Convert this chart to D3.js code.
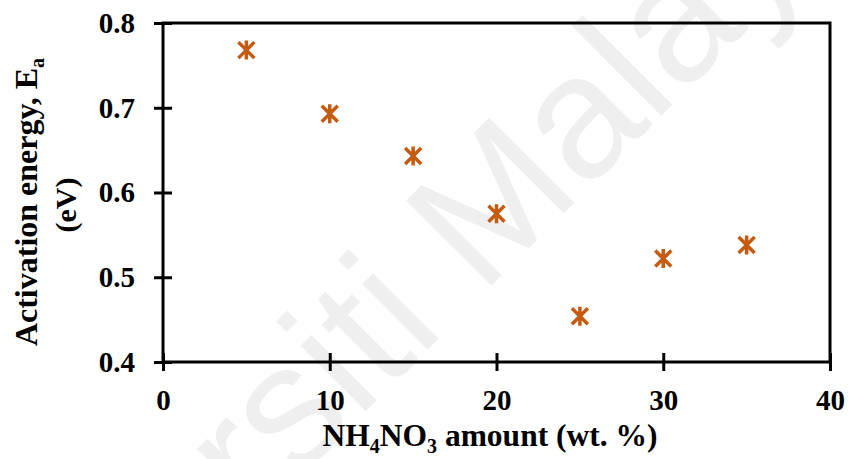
<!DOCTYPE html>
<html>
  <head>
    <meta charset="utf-8">
    <script src="https://d3js.org/d3.v7.min.js"></script>
    <style>
      body { margin: 0; background: #fff; }
      svg { display: block; }
      .tick text { font-family: "Liberation Serif", serif; font-weight: bold; font-size: 29px; fill: #000; }
      .tick line { stroke: #000; stroke-width: 3px; }
      .axis-title { font-family: "Liberation Serif", serif; font-weight: bold; fill: #000; }
      .watermark { font-family: "Liberation Sans", sans-serif; font-size: 175px; fill: #efefef; }
    </style>
  </head>
  <body>
    <svg width="849" height="459"></svg>
    <script>
      // data
      const amounts = [5, 10, 15, 20, 25, 30, 35];
      const energies = [0.768, 0.693, 0.643, 0.575, 0.454, 0.522, 0.538];
      const xTicks = [0, 10, 20, 30, 40];
      const yTicks = [0.4, 0.5, 0.6, 0.7, 0.8];

      const svg = d3.select('svg');
      const width = +svg.attr('width');
      const height = +svg.attr('height');
      const margin = { left: 163, right: 19, top: 23, bottom: 97 };
      const innerWidth = width - margin.left - margin.right;
      const innerHeight = height - margin.top - margin.bottom;

      // faint watermark behind everything
      svg.append('text')
          .attr('class', 'watermark')
          .attr('transform', 'translate(-62, 839) rotate(-45)')
          .text('Universiti Malaya');

      const g = svg.append('g')
          .attr('transform', `translate(${margin.left}, ${margin.top})`);

      const xScale = d3.scaleLinear().domain([0, 40]).range([0, innerWidth]);
      const yScale = d3.scaleLinear().domain([0.4, 0.8]).range([innerHeight, 0]);

      // axes, ticks crossing the axis line
      const xAxisG = g.append('g')
          .attr('transform', `translate(0, ${innerHeight})`)
          .call(d3.axisBottom(xScale).tickValues(xTicks).tickSize(9).tickPadding(18).tickFormat(d3.format('d')));
      xAxisG.selectAll('.tick line').attr('y1', -9).attr('y2', 9);

      const yAxisG = g.append('g')
          .call(d3.axisLeft(yScale).tickValues(yTicks).tickSize(9).tickPadding(19).tickFormat(d3.format('.1f')));
      yAxisG.selectAll('.tick line').attr('x1', 9).attr('x2', -9);

      [xAxisG, yAxisG].forEach(a => a.select('.domain').remove());

      // plot frame
      g.append('rect')
          .attr('width', innerWidth)
          .attr('height', innerHeight)
          .attr('fill', 'none')
          .attr('stroke', '#000')
          .attr('stroke-width', 3);

      // star markers
      const star = 'M-8,-8L8,8M-8,8L8,-8M0,-9.5L0,9.5';
      g.selectAll('.pt').data(amounts)
        .enter().append('path')
          .attr('class', 'pt')
          .attr('transform', (d, i) => `translate(${xScale(d)}, ${yScale(energies[i])})`)
          .attr('d', star)
          .attr('fill', 'none')
          .attr('stroke', '#C55A11')
          .attr('stroke-width', 3.5);

      // x title with subscripts
      const xt = svg.append('text')
          .attr('class', 'axis-title')
          .attr('font-size', '31.5px')
          .attr('x', 490)
          .attr('y', 446)
          .attr('text-anchor', 'middle');
      xt.append('tspan').text('NH');
      xt.append('tspan').attr('dy', 7).attr('font-size', '20px').text('4');
      xt.append('tspan').attr('dy', -7).text('NO');
      xt.append('tspan').attr('dy', 7).attr('font-size', '20px').text('3');
      xt.append('tspan').attr('dy', -7).text(' amount (wt. %)');

      // y title, two lines
      const yt = svg.append('text')
          .attr('class', 'axis-title')
          .attr('font-size', '32px')
          .attr('transform', 'translate(37, 202) rotate(-90)')
          .attr('text-anchor', 'middle');
      yt.append('tspan').text('Activation energy, E');
      yt.append('tspan').attr('dy', 7).attr('font-size', '20px').text('a');

      svg.append('text')
          .attr('class', 'axis-title')
          .attr('font-size', '30px')
          .attr('transform', 'translate(76, 205) rotate(-90)')
          .attr('text-anchor', 'middle')
          .text('(eV)');
    </script>
  </body>
</html>
